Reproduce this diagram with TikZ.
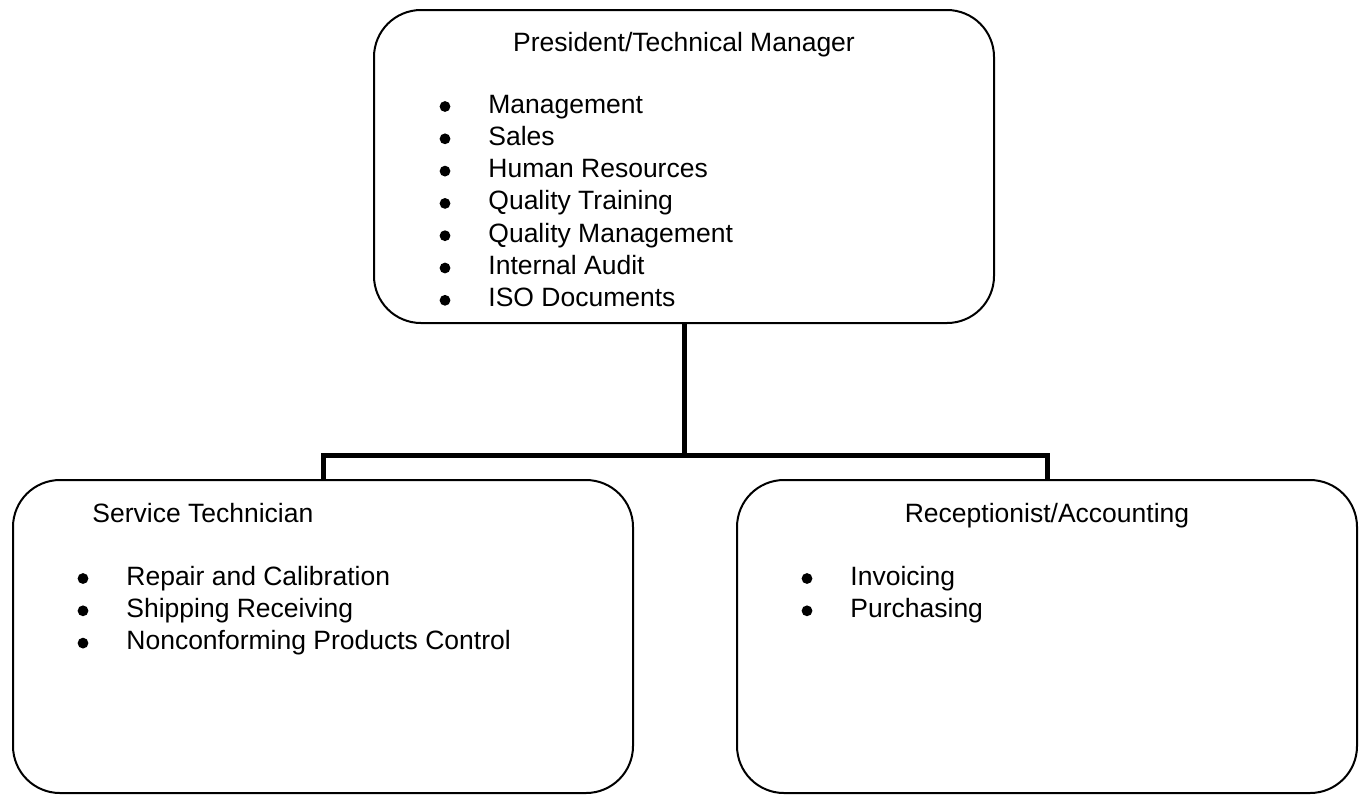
\documentclass[tikz,border=0pt]{standalone}
\usepackage{fontspec}
\setmainfont{Liberation Sans}
\begin{document}
\begin{tikzpicture}[x=0.5pt,y=-0.5pt,
  box/.style={draw, line width=1pt, rounded corners=23.5pt, minimum width=310pt, minimum height=156.5pt, inner sep=0pt},
  txt/.style={inner sep=0pt, font=\fontsize{13.25}{16}\selectfont},
  bul/.style={circle, fill, inner sep=0pt, minimum size=5.4pt},
  link/.style={line width=2.5pt, line join=miter}]
\useasboundingbox (0,0) rectangle (1363,794);
% boxes
\node[box] (top) at (684,166.5) {};
\node[box] (left) at (323,636.5) {};
\node[box] (right) at (1047,636.5) {};
% connectors
\coordinate (j) at (684,455);
\draw[link] (top.south) -- (top.south |- j);
\draw[link] (left.north) -- (left.north |- j) -- (right.north |- j) -- (right.north);
% top box text
\node[txt, anchor=base] (ttitle) at (684,51) {President/Technical Manager};
\foreach \t [count=\i from 0] in {Management,Sales,Human Resources,Quality Training,Quality Management,Internal Audit,ISO Documents}{
  \node[bul] (tb\i) at (445,{113+32.3*\i-6.5}) {};
  \node[txt, anchor=base west] (ti\i) at (488,{113+32.3*\i}) {\t};
}
% left box text
\node[txt, anchor=base west] (ltitle) at (92,522) {Service Technician};
\foreach \t [count=\i from 0] in {Repair and Calibration,Shipping Receiving,Nonconforming Products Control}{
  \node[bul] (lb\i) at (83,{585+32.3*\i-6.5}) {};
  \node[txt, anchor=base west] (li\i) at (126,{585+32.3*\i}) {\t};
}
% right box text
\node[txt, anchor=base] (rtitle) at (1047,522) {Receptionist/Accounting};
\foreach \t [count=\i from 0] in {Invoicing,Purchasing}{
  \node[bul] (rb\i) at (807,{585+32.3*\i-6.5}) {};
  \node[txt, anchor=base west] (ri\i) at (850,{585+32.3*\i}) {\t};
}
\end{tikzpicture}
\end{document}
